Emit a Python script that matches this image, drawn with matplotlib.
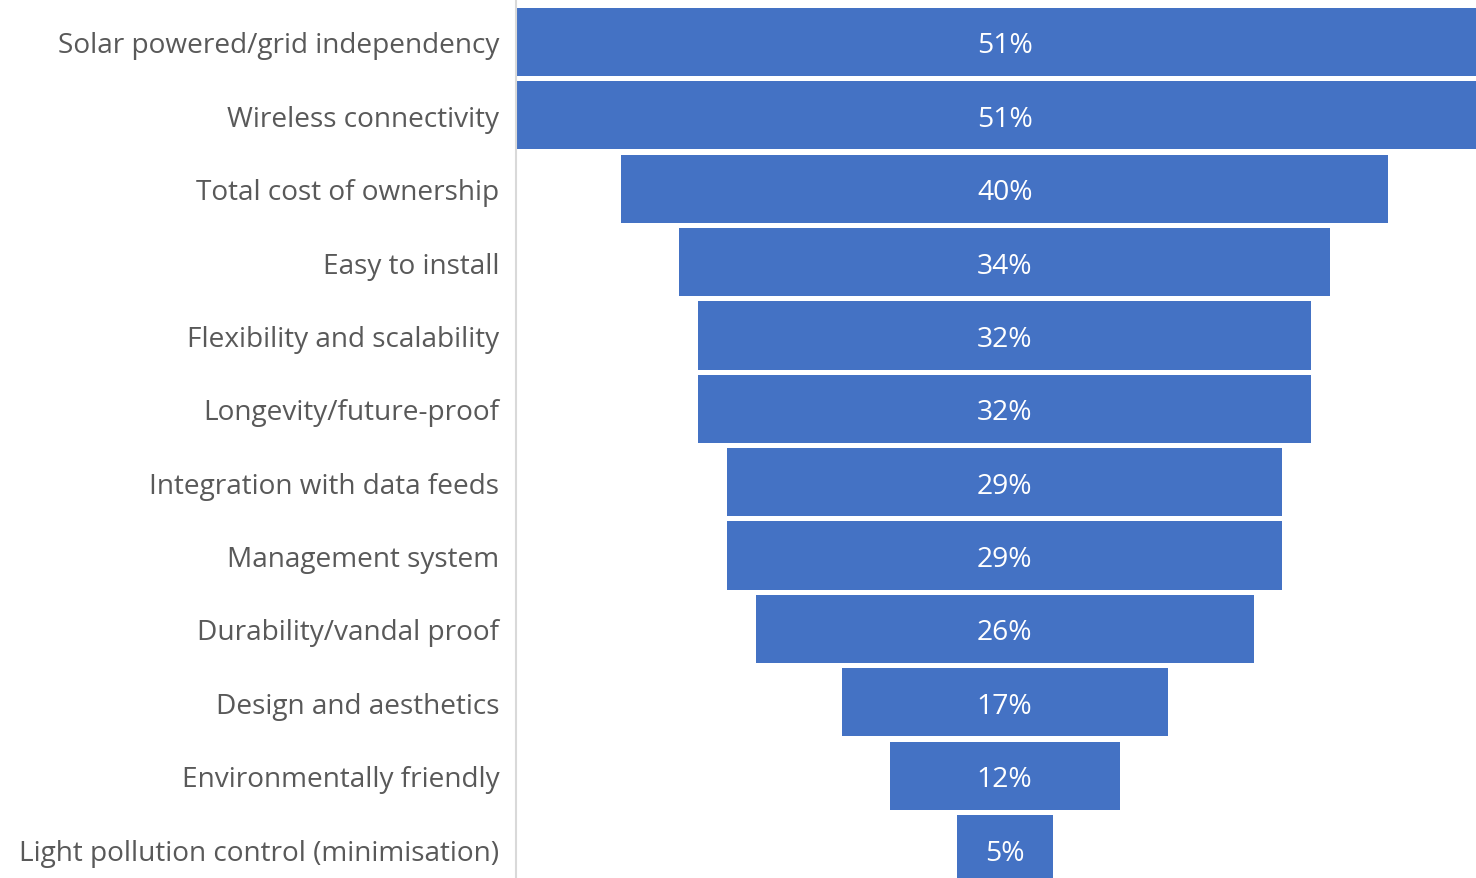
import matplotlib.pyplot as plt

factors = ['Solar powered/grid independency', 'Wireless connectivity',
           'Total cost of ownership', 'Easy to install',
           'Flexibility and scalability', 'Longevity/future-proof',
           'Integration with data feeds', 'Management system',
           'Durability/vandal proof', 'Design and aesthetics',
           'Environmentally friendly', 'Light pollution control (minimisation)']
shares = [51, 51, 40, 34, 32, 32, 29, 29, 26, 17, 12, 5]

plt.rcParams['font.family'] = ['Open Sans', 'DejaVu Sans']

fig = plt.figure(figsize=(14.76, 8.79), dpi=100)
ax = fig.add_axes([0.3496, 0.0, 0.6504, 1.0])

rows = range(len(factors))
lefts = [-v / 2 for v in shares]
ax.barh(rows, shares, left=lefts, height=0.93, color='#4472C4')

for i, v in zip(rows, shares):
    ax.text(0, i, f'{v}%', ha='center', va='center_baseline', color='white',
            fontsize=20.3)

ax.set_xlim(-25.5, 24.6)
ax.set_ylim(11.395, -0.586)
ax.set_yticks(list(rows))
ax.set_yticklabels(factors, fontsize=20.2, color='#595959',
                   va='center_baseline')
ax.tick_params(axis='y', length=0, pad=12)
ax.set_xticks([])

for s in ['top', 'right', 'bottom']:
    ax.spines[s].set_visible(False)
ax.spines['left'].set_color('#D9D9D9')
ax.spines['left'].set_linewidth(1.5)

fig.savefig('out.png', dpi=100)
